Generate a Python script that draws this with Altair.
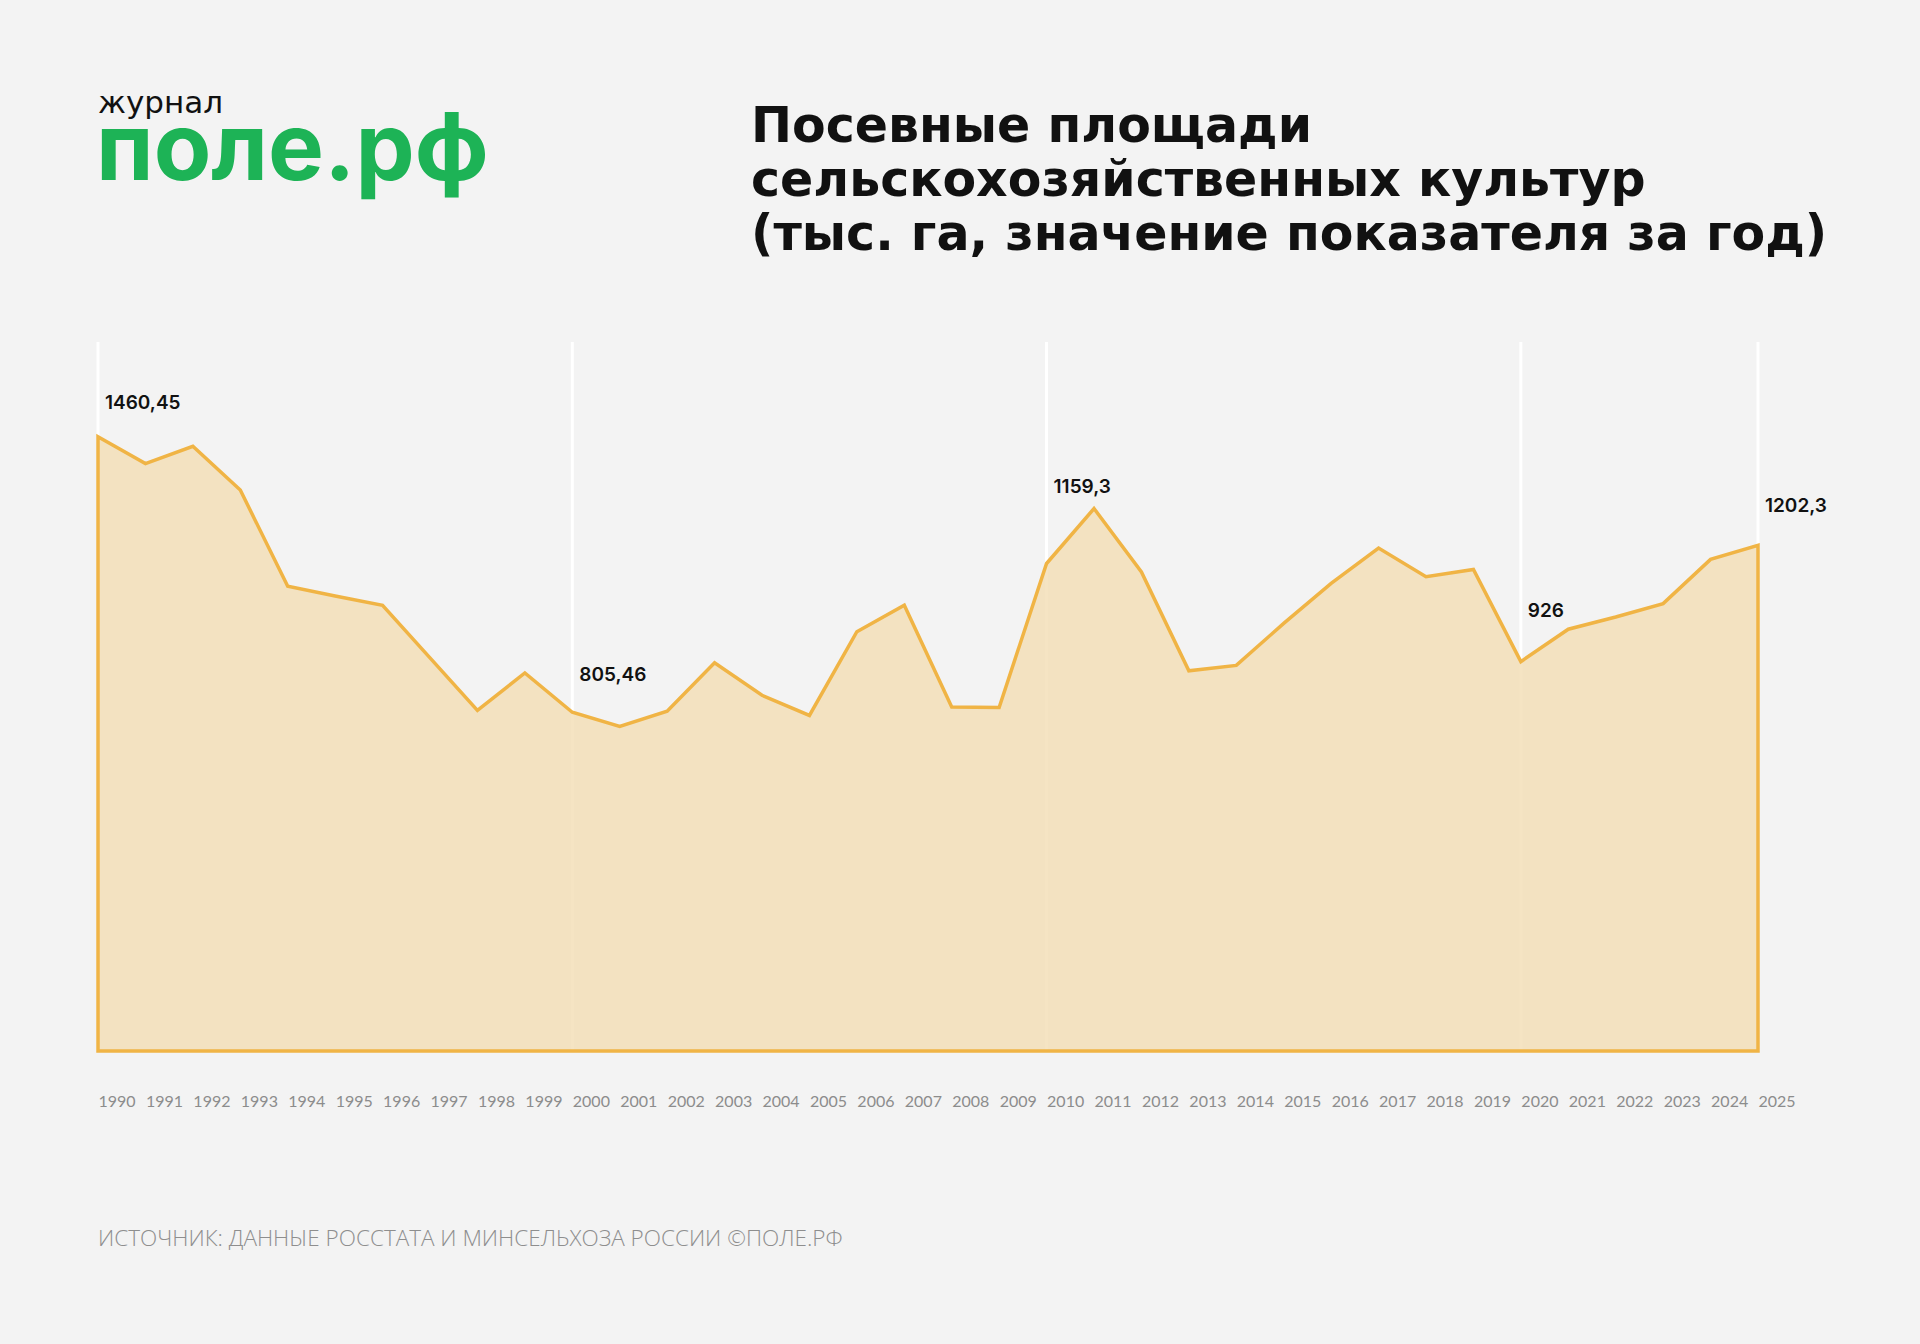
import altair as alt
import pandas as pd

years = list(range(1990, 2026))
values = [1460.45, 1397, 1438, 1334, 1105, 1082, 1060, 935, 810, 899,
          805.46, 772, 808, 923, 846, 798, 997, 1060, 818, 817,
          1159.3, 1290, 1139, 904, 917, 1017, 1112, 1196, 1128, 1145,
          926, 1003, 1032, 1064, 1169, 1202.3]
grid_years = [1990, 2000, 2010, 2020, 2025]
label_years = [1990, 2000, 2010, 2020, 2025]

title_lines = ["Посевные площади", "сельскохозяйственных культур",
               "(тыс. га, значение показателя за год)"]
source_text = "ИСТОЧНИК: ДАННЫЕ РОССТАТА И МИНСЕЛЬХОЗА РОССИИ ©ПОЛЕ.РФ"
logo_small = "журнал"
logo_big = "поле.рф"

W, H = 1660, 709
YMAX = 1686

df = pd.DataFrame({"year": years, "value": values})
lab = df[df["year"].isin(label_years)].copy()
lab["text"] = lab["value"].map(lambda v: (f"{v:g}").replace(".", ","))
grid_df = pd.DataFrame({"year": grid_years})

xs = alt.Scale(domain=[1990, 2025], nice=False, zero=False)
ys = alt.Scale(domain=[0, YMAX], nice=False)

rules = alt.Chart(grid_df).mark_rule(color="#FFFFFF", strokeWidth=3).encode(
    x=alt.X("year:Q", scale=xs,
            axis=alt.Axis(values=years, format="d", labelAlign="left", labelBaseline="top",
                          labelPadding=42, ticks=False, domain=False, grid=False,
                          labelFont="Lato", labelFontSize=16, labelColor="#8C8C8C",
                          labelOverlap=False, labelBound=False, labelFlush=False, title=None)),
    y=alt.value(0), y2=alt.value(H))

area = alt.Chart(df).mark_area(fill="#F2DDB4", fillOpacity=0.8, stroke="#F0B445",
                               strokeWidth=3.5, strokeJoin="miter").encode(
    x=alt.X("year:Q", scale=xs),
    y=alt.Y("value:Q", scale=ys, axis=None))

dys = {1990: -34, 2000: -37, 2010: -76, 2020: -51, 2025: -39}
label_layers = []
for yr in label_years:
    label_layers.append(
        alt.Chart(lab[lab["year"] == yr]).mark_text(
            align="left", baseline="middle", dx=7, dy=dys[yr], font="Inter",
            fontWeight=600, fontSize=19, color="#111111").encode(
            x=alt.X("year:Q", scale=xs), y=alt.Y("value:Q", scale=ys), text="text:N"))

title = alt.Chart(pd.DataFrame({"t": ["\n".join(title_lines)]})).mark_text(
    align="left", baseline="alphabetic", lineBreak="\n", lineHeight=54,
    font="DejaVu Sans", fontWeight="bold", fontSize=49, color="#111111").encode(
    x=alt.value(653), y=alt.value(-200), text="t:N")

logo1 = alt.Chart(pd.DataFrame({"t": [logo_small]})).mark_text(
    align="left", baseline="alphabetic", font="DejaVu Sans", fontWeight=400, fontSize=31,
    color="#111111").encode(x=alt.value(0), y=alt.value(-229), text="t:N")

logo2 = alt.Chart(pd.DataFrame({"t": [logo_big]})).mark_text(
    align="left", baseline="alphabetic", font="Inter", fontWeight=700, fontSize=94,
    color="#1DB356").encode(x=alt.value(-2), y=alt.value(-162), text="t:N")

source = alt.Chart(pd.DataFrame({"t": [source_text]})).mark_text(
    align="left", baseline="middle", font="Open Sans", fontWeight=300, fontSize=22.5,
    color="#8E8E8E").encode(x=alt.value(0), y=alt.value(897), text="t:N")

chart = alt.layer(rules, area, *label_layers, title, logo1, logo2, source).properties(
    width=W, height=H,
    autosize=alt.AutoSizeParams(type="none"),
    padding={"left": 98, "top": 342, "right": 162, "bottom": 293},
    background="#F3F3F3",
).configure_view(stroke=None)

chart.save("out.html", embed_options={"renderer": "svg", "actions": False})
